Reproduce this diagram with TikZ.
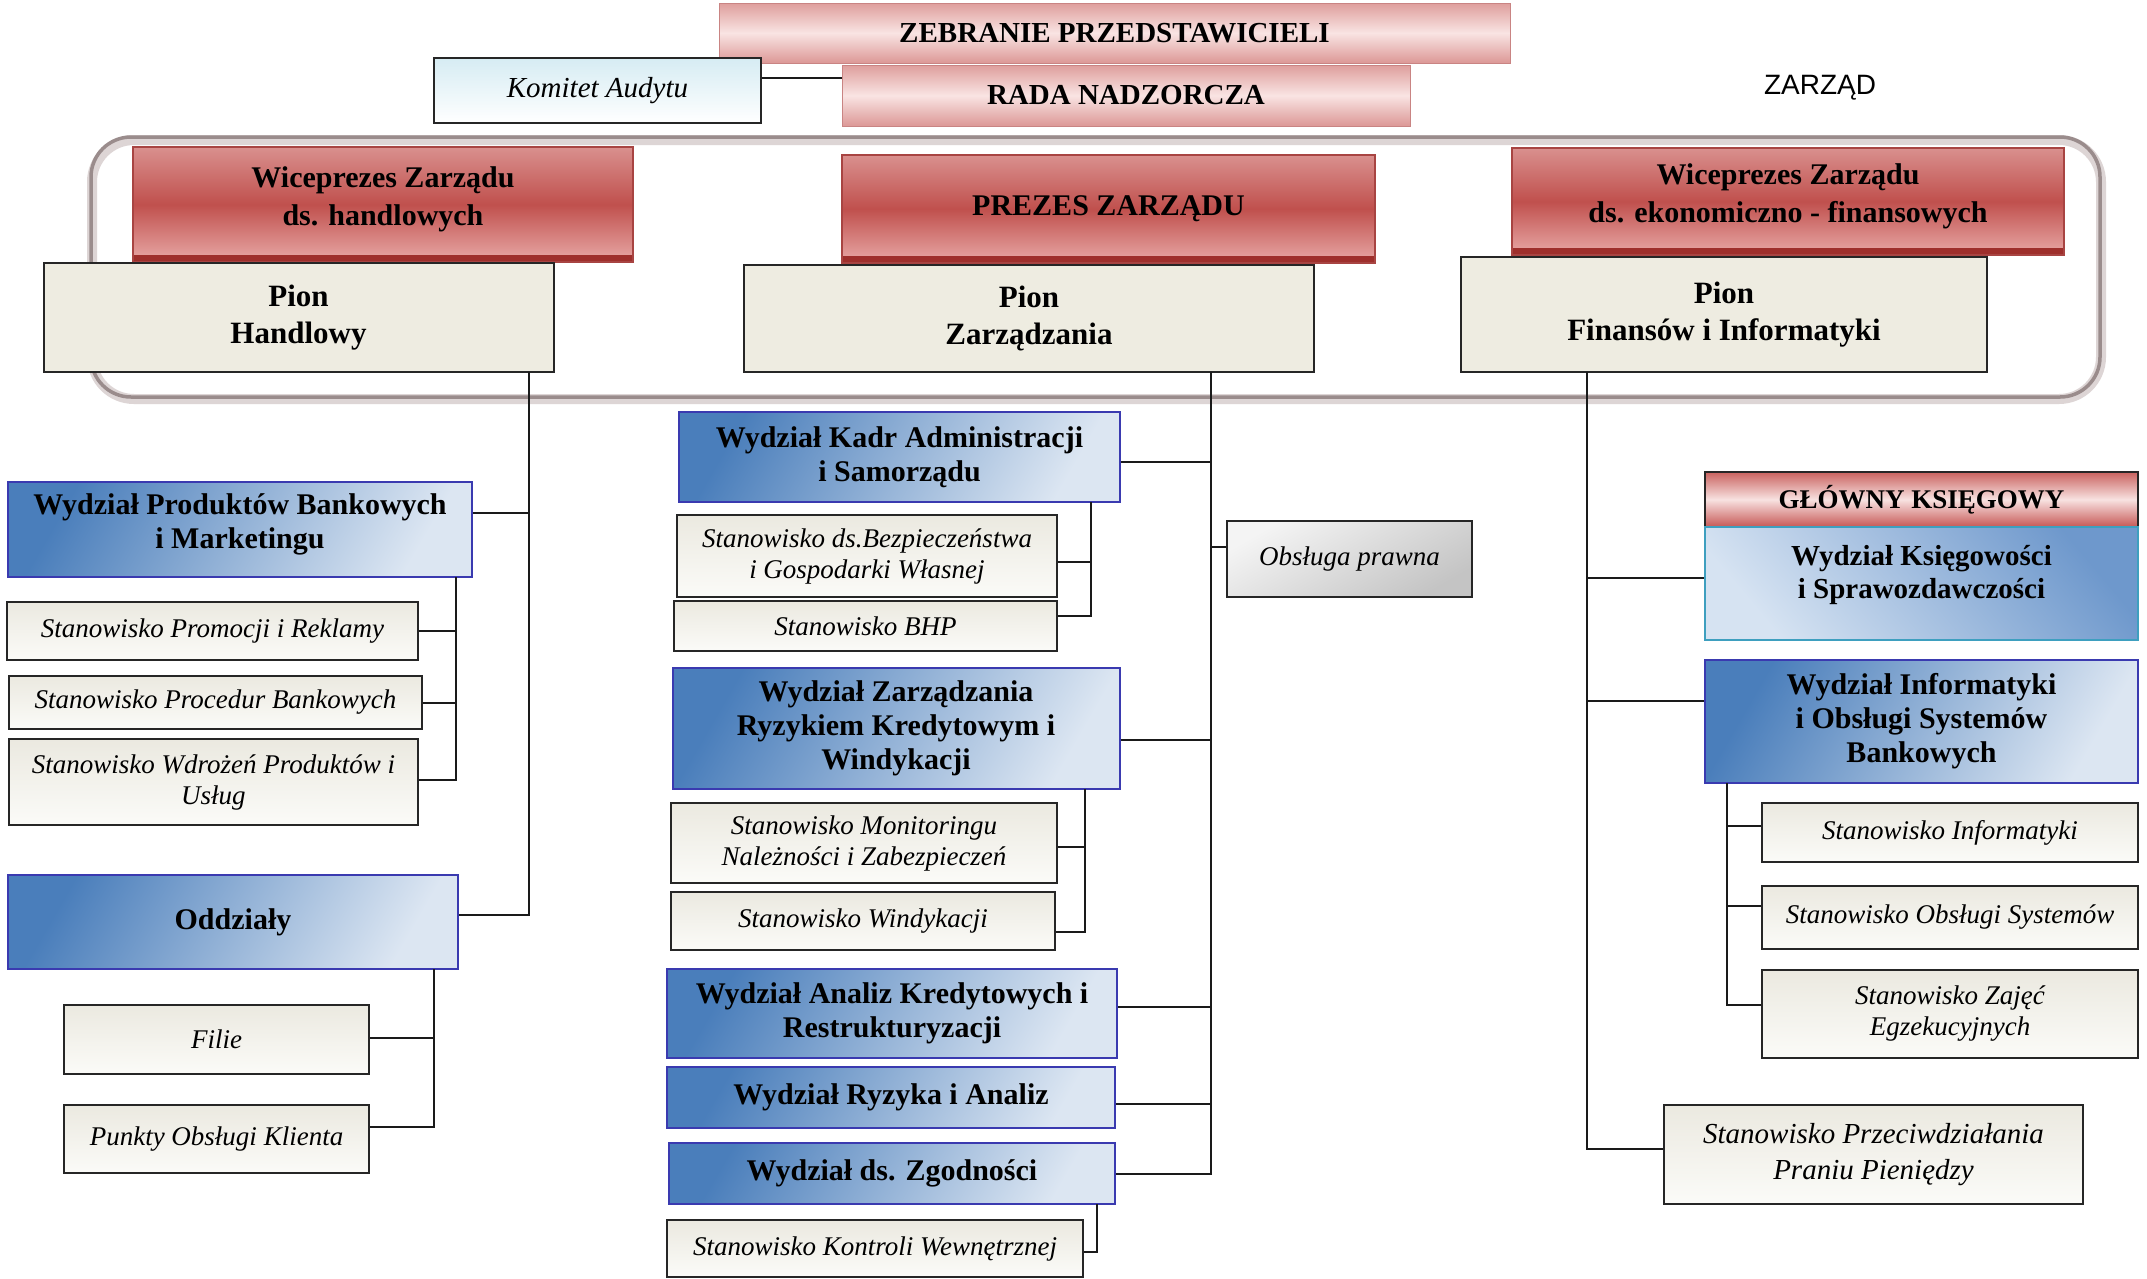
\documentclass[tikz,border=0pt]{standalone}
\usepackage{fontspec}
\setmainfont{Liberation Serif}
\newfontfamily\sansf{Liberation Sans}
\usetikzlibrary{calc}
\definecolor{RedTop}{HTML}{D9908E}
\definecolor{RedMid}{HTML}{C0504D}
\definecolor{RedBot}{HTML}{E8A9A7}
\definecolor{RedDark}{HTML}{9E2F2C}
\definecolor{RedEdge}{HTML}{A84442}
\definecolor{PinkTop}{HTML}{DE9E9C}
\definecolor{PinkMid}{HTML}{F9E4E3}
\definecolor{PinkBot}{HTML}{DC9896}
\definecolor{PinkEdge}{HTML}{C98483}
\definecolor{GkTop}{HTML}{C9625F}
\definecolor{GkMid}{HTML}{F8E2E1}
\definecolor{GkBot}{HTML}{C65855}
\definecolor{BlueDark}{HTML}{4A7EBB}
\definecolor{BlueLight}{HTML}{DCE6F2}
\definecolor{BlueEdge}{HTML}{3A3AB0}
\definecolor{KsEdge}{HTML}{3E9FBF}
\definecolor{KsDark}{HTML}{6E98CC}
\definecolor{KsLight}{HTML}{D6E3F2}
\definecolor{Beige}{HTML}{EEECE1}
\definecolor{Edge}{HTML}{262626}
\definecolor{PosTop}{HTML}{EBE9E0}
\definecolor{PosBot}{HTML}{FBFBF8}
\definecolor{KomTop}{HTML}{D6ECF3}
\definecolor{ObsTop}{HTML}{F4F4F4}
\definecolor{ObsBot}{HTML}{C4C4C4}
\definecolor{LinkCol}{HTML}{1A1A1A}
\definecolor{FrameOut}{HTML}{DDD5D5}
\definecolor{FrameIn}{HTML}{9A8C8C}
\tikzset{
  box/.style={rectangle, inner sep=0pt, align=center, line width=2pt},
  redbox/.style={box, draw=RedEdge, top color=RedTop, bottom color=RedBot, middle color=RedMid,
    font=\fontsize{30}{38}\selectfont\bfseries,
    path picture={\fill[RedDark] (path picture bounding box.south west) rectangle ([yshift=7pt]path picture bounding box.south east);}},
  pinkbox/.style={box, draw=PinkEdge, line width=1pt, top color=PinkTop, bottom color=PinkBot, middle color=PinkMid,
    font=\fontsize{29}{36}\selectfont\bfseries},
  gkbox/.style={box, draw=Edge, top color=GkTop, bottom color=GkBot, middle color=GkMid,
    font=\fontsize{27}{32}\selectfont\bfseries},
  pionbox/.style={box, draw=Edge, fill=Beige, font=\fontsize{31}{37}\selectfont\bfseries},
  bluebox/.style={box, draw=BlueEdge, top color=BlueDark, bottom color=BlueLight, shading angle=60,
    font=\fontsize{30}{34}\selectfont\bfseries},
  ksbox/.style={box, draw=KsEdge, top color=KsDark, bottom color=KsLight, shading angle=-50,
    font=\fontsize{29}{33}\selectfont\bfseries},
  posbox/.style={box, draw=Edge, top color=PosTop, bottom color=PosBot,
    font=\fontsize{27}{31}\selectfont\itshape},
  kombox/.style={box, draw=Edge, top color=KomTop, bottom color=white,
    font=\fontsize{29}{34}\selectfont\itshape},
  obsbox/.style={box, draw=Edge, top color=ObsTop, bottom color=ObsBot, shading angle=30,
    font=\fontsize{27}{31}\selectfont\itshape},
  link/.style={line width=2pt, draw=LinkCol},
}
\begin{document}
\begin{tikzpicture}[x=1pt, y=-1pt]
\useasboundingbox (0,0) rectangle (2147,1278);
\fill[white] (0,0) rectangle (2147,1278);

% ZARZAD frame
\draw[FrameOut, line width=10pt, rounded corners=42pt] (92,140) rectangle (2101,399);
\draw[FrameIn, line width=3.5pt, rounded corners=40pt] (91,137) rectangle (2100,397);

% top
\node[pinkbox, minimum width=791, minimum height=60] (zeb) at (1114.5,33) {ZEBRANIE PRZEDSTAWICIELI};
\node[pinkbox, minimum width=568, minimum height=61] (rada) at (1126,95.5) {RADA NADZORCZA};
\node[kombox, minimum width=327, minimum height=65] (kom) at (597.5,90.5) {Komitet Audytu};
\node[font=\sansf\fontsize{28}{32}\selectfont] (zarzad) at (1820,88) {ZARZĄD};

% management
\node[redbox, text depth=16.5, minimum width=500, minimum height=115] (wh) at (383,204.5) {Wiceprezes Zarządu\\ds. handlowych};
\node[redbox, minimum width=533, minimum height=108] (prez) at (1108.5,209) {PREZES ZARZĄDU};
\node[redbox, text depth=16.5, minimum width=552, minimum height=107] (wf) at (1788,201.5) {Wiceprezes Zarządu\\ds. ekonomiczno - finansowych};
\node[pionbox, minimum width=510, minimum height=109] (ph) at (298.5,317.5) {Pion\\Handlowy};
\node[pionbox, minimum width=570, minimum height=107] (pz) at (1029,318.5) {Pion\\Zarządzania};
\node[pionbox, minimum width=526, minimum height=115] (pf) at (1724,314.5) {Pion\\Finansów i Informatyki};

% left column
\node[bluebox, text depth=16, minimum width=464, minimum height=95] (prod) at (240,529.5) {Wydział Produktów Bankowych\\i Marketingu};
\node[posbox, minimum width=411, minimum height=58] (sprom) at (212.5,631) {Stanowisko Promocji i Reklamy};
\node[posbox, minimum width=413, minimum height=53] (sproc) at (215.5,702.5) {Stanowisko Procedur Bankowych};
\node[posbox, minimum width=409, minimum height=86] (swdr) at (213.5,782) {Stanowisko Wdrożeń Produktów i\\Usług};
\node[bluebox, minimum width=450, minimum height=94] (odd) at (233,922) {Oddziały};
\node[posbox, minimum width=305, minimum height=69] (filie) at (216.5,1039.5) {Filie};
\node[posbox, minimum width=305, minimum height=68] (punkty) at (216.5,1139) {Punkty Obsługi Klienta};

% middle column
\node[bluebox, minimum width=441, minimum height=90] (kadr) at (899.5,457) {Wydział Kadr Administracji\\i Samorządu};
\node[posbox, minimum width=380, minimum height=82] (sbez) at (867,556) {Stanowisko ds.Bezpieczeństwa\\i Gospodarki Własnej};
\node[posbox, minimum width=383, minimum height=50] (sbhp) at (865.5,626) {Stanowisko BHP};
\node[obsbox, minimum width=245, minimum height=76] (obs) at (1349.5,559) {Obsługa prawna};
\node[bluebox, minimum width=447, minimum height=121] (ryz) at (896,728.5) {Wydział Zarządzania\\Ryzykiem Kredytowym i\\Windykacji};
\node[posbox, minimum width=386, minimum height=80] (smon) at (864,843) {Stanowisko Monitoringu\\Należności i Zabezpieczeń};
\node[posbox, minimum width=384, minimum height=58] (swin) at (863,921) {Stanowisko Windykacji};
\node[bluebox, minimum width=450, minimum height=89] (ana) at (892,1013.5) {Wydział Analiz Kredytowych i\\Restrukturyzacji};
\node[bluebox, minimum width=448, minimum height=61] (ryza) at (891,1097.5) {Wydział Ryzyka i Analiz};
\node[bluebox, minimum width=446, minimum height=61] (zgod) at (892,1173.5) {Wydział ds. Zgodności};
\node[posbox, minimum width=416, minimum height=57] (skon) at (875,1248.5) {Stanowisko Kontroli Wewnętrznej};

% right column
\node[gkbox, minimum width=433, minimum height=55] (gk) at (1921.5,499.5) {GŁÓWNY KSIĘGOWY};
\node[ksbox, text depth=24, minimum width=433, minimum height=113] (ksi) at (1921.5,583.5) {Wydział Księgowości\\i Sprawozdawczości};
\node[bluebox, minimum width=433, minimum height=123] (inf) at (1921.5,721.5) {Wydział Informatyki\\i Obsługi Systemów\\Bankowych};
\node[posbox, minimum width=376, minimum height=59] (sinf) at (1950,832.5) {Stanowisko Informatyki};
\node[posbox, minimum width=376, minimum height=63] (sobs) at (1950,917.5) {Stanowisko Obsługi Systemów};
\node[posbox, minimum width=376, minimum height=88] (szaj) at (1950,1014) {Stanowisko Zajęć\\Egzekucyjnych};
\node[posbox, font=\fontsize{29}{36}\selectfont\itshape, minimum width=419, minimum height=99] (spra) at (1873.5,1154.5) {Stanowisko Przeciwdziałania\\Praniu Pieniędzy};

% trunk and branch coordinates
\coordinate (t1) at (529,372);
\coordinate (p1) at (456,577);
\coordinate (o1) at (434,969);
\coordinate (t2) at (1211,372);
\coordinate (k1) at (1091,502);
\coordinate (r1) at (1085,789);
\coordinate (z1) at (1097,1204);
\coordinate (t3) at (1587,372);
\coordinate (i1) at (1727,783);

% connectors
\draw[link] ([yshift=12.5]kom.east) -- ([yshift=12.5]kom.east -| rada.west);

\draw[link] (t1) |- ([yshift=7]odd.east);
\draw[link] ([yshift=17]prod.east) -- ([yshift=17]prod.east -| t1);
\draw[link] (p1) |- ([yshift=2]swdr.east);
\draw[link] (sprom.east) -- (sprom.east -| p1);
\draw[link] (sproc.east) -- (sproc.east -| p1);
\draw[link] (o1) |- ([yshift=12]punkty.east);
\draw[link] ([yshift=2]filie.east) -- ([yshift=2]filie.east -| o1);

\draw[link] (t2) |- (zgod.east);
\draw[link] ([yshift=-5]kadr.east) -- ([yshift=-5]kadr.east -| t2);
\draw[link] ([yshift=12]obs.west) -- ([yshift=12]obs.west -| t2);
\draw[link] ([yshift=-11]ryz.east) -- ([yshift=-11]ryz.east -| t2);
\draw[link] ([yshift=7]ana.east) -- ([yshift=7]ana.east -| t2);
\draw[link] ([yshift=-6]ryza.east) -- ([yshift=-6]ryza.east -| t2);
\draw[link] (k1) |- ([yshift=10]sbhp.east);
\draw[link] ([yshift=-6]sbez.east) -- ([yshift=-6]sbez.east -| k1);
\draw[link] (r1) |- ([yshift=-11]swin.east);
\draw[link] ([yshift=-4]smon.east) -- ([yshift=-4]smon.east -| r1);
\draw[link] (z1) |- ([yshift=-3.5]skon.east);

\draw[link] (t3) |- ([yshift=6]spra.west);
\draw[link] ([yshift=6]ksi.west) -- ([yshift=6]ksi.west -| t3);
\draw[link] ([yshift=21]inf.west) -- ([yshift=21]inf.west -| t3);
\draw[link] (i1) |- ([yshift=9]szaj.west);
\draw[link] ([yshift=7]sinf.west) -- ([yshift=7]sinf.west -| i1);
\draw[link] ([yshift=12]sobs.west) -- ([yshift=12]sobs.west -| i1);
\end{tikzpicture}
\end{document}
